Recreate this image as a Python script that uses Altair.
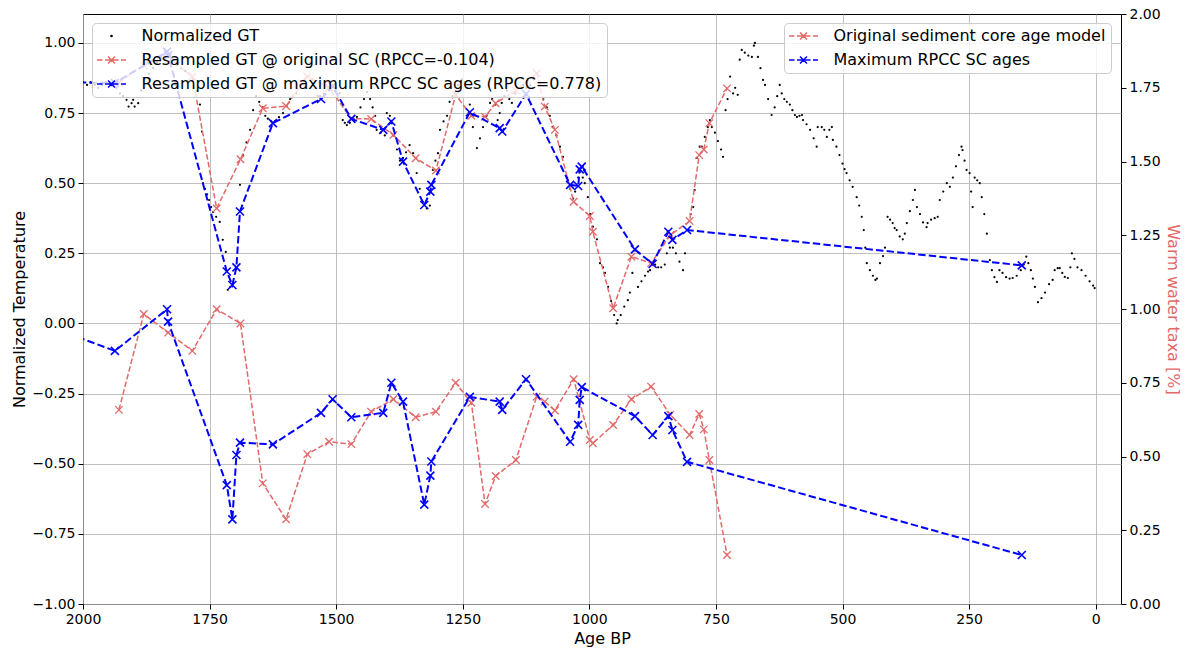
import altair as alt
import pandas as pd

RED = "#e36868"
BLUE = "#0000ff"

GT_LABEL = "Normalized GT"
RED_UP_LABEL = "Resampled GT @ original SC (RPCC=-0.104)"
BLUE_UP_LABEL = "Resampled GT @ maximum RPCC SC ages (RPCC=0.778)"
RED_LOW_LABEL = "Original sediment core age model"
BLUE_LOW_LABEL = "Maximum RPCC SC ages"

# ---- Normalized GT (age BP, normalized temperature) ----
gt_age = [2000, 1992, 1985, 1977, 1970, 1962, 1955, 1948, 1941, 1934, 1927, 1921, 1914, 1910, 1904, 1901,
          1898, 1891, 1885, 1878, 1870, 1862, 1854, 1846, 1838, 1830, 1822, 1814, 1806, 1798, 1790, 1782,
          1775, 1769, 1765, 1763, 1759, 1755, 1751, 1747, 1743, 1737, 1730, 1724, 1718, 1714, 1709, 1704,
          1698, 1690, 1684, 1677, 1670, 1664, 1658, 1652, 1645, 1640, 1635, 1628, 1621, 1613, 1605, 1598,
          1591, 1585, 1579, 1570, 1562, 1555, 1547, 1540, 1532, 1524, 1516, 1508, 1500, 1493, 1487, 1483,
          1479, 1473, 1466, 1459, 1452, 1445, 1439, 1433, 1428, 1423, 1420, 1412, 1404, 1400, 1394, 1387,
          1380, 1374, 1368, 1362, 1355, 1348, 1341, 1335, 1329, 1321, 1315, 1309, 1304, 1299, 1295, 1288,
          1281, 1276, 1270, 1266, 1259, 1252, 1246, 1242, 1236, 1230, 1222, 1216, 1210, 1203, 1196, 1192,
          1185, 1181, 1177, 1173, 1168, 1163, 1158, 1153, 1146, 1139, 1131, 1124, 1117, 1110, 1104, 1098,
          1091, 1084, 1078, 1072, 1065, 1058, 1052, 1044, 1038, 1032, 1028, 1022, 1019, 1013, 1009, 1003,
          998, 993, 985, 979, 973, 969, 963, 957, 951, 946, 944, 938, 931, 924, 920, 915,
          910, 904, 897, 890, 884, 880, 876, 870, 864, 858, 851, 847, 841, 835, 829, 822,
          815, 811, 807, 800, 795, 792, 788, 782, 778, 772, 766, 762, 758, 752, 746, 740,
          736, 731, 727, 722, 716, 712, 707, 703, 699, 693, 686, 679, 675, 673, 667, 662,
          657, 653, 647, 640, 634, 629, 624, 620, 615, 610, 604, 599, 594, 590, 585, 580,
          578, 571, 564, 557, 551, 549, 541, 536, 531, 526, 521, 519, 512, 506, 500, 496,
          492, 486, 480, 472, 467, 462, 458, 455, 452, 446, 440, 435, 432, 426, 420, 416,
          411, 406, 401, 397, 393, 387, 381, 377, 373, 367, 361, 357, 353, 347, 341, 334,
          332, 325, 318, 312, 308, 301, 294, 288, 282, 276, 270, 265, 263, 259, 255, 249,
          246, 243, 239, 234, 229, 225, 220, 215, 209, 205, 200, 195, 190, 184, 177, 170,
          164, 156, 148, 142, 137, 133, 128, 124, 120, 114, 107, 100, 92, 85, 81, 75,
          71, 66, 61, 55, 50, 47, 42, 36, 28, 20, 12, 5, 2]
gt_val = [0.86, 0.85, 0.86, 0.85, 0.84, 0.85, 0.86, 0.86, 0.86, 0.84, 0.82, 0.81, 0.797, 0.773, 0.785, 0.797,
          0.773, 0.785, 0.83, 0.87, 0.89, 0.91, 0.93, 0.95, 0.97, 0.96, 0.94, 0.92, 0.91, 0.90, 0.89, 0.87,
          0.83, 0.78, 0.684, 0.50, 0.48, 0.46, 0.44, 0.415, 0.397, 0.38, 0.362, 0.298, 0.255, 0.12, 0.13, 0.144,
          0.20, 0.494, 0.60, 0.645, 0.69, 0.76, 0.81, 0.79, 0.77, 0.74, 0.73, 0.72, 0.72, 0.735, 0.75, 0.775,
          0.80, 0.81, 0.82, 0.85, 0.87, 0.88, 0.87, 0.84, 0.81, 0.82, 0.84, 0.85, 0.84, 0.82, 0.725, 0.715,
          0.707, 0.715, 0.73, 0.736, 0.77, 0.80, 0.825, 0.80, 0.77, 0.74, 0.69, 0.68, 0.67, 0.75, 0.74, 0.67,
          0.62, 0.58, 0.59, 0.61, 0.636, 0.607, 0.536, 0.48, 0.433, 0.41, 0.42, 0.547, 0.58, 0.607, 0.69, 0.72,
          0.74, 0.79, 0.81, 0.82, 0.85, 0.87, 0.86, 0.84, 0.78, 0.70, 0.625, 0.66, 0.70, 0.74, 0.786, 0.80,
          0.78, 0.725, 0.75, 0.786, 0.81, 0.83, 0.80, 0.786, 0.82, 0.84, 0.85, 0.84, 0.85, 0.87, 0.89, 0.85,
          0.80, 0.77, 0.74, 0.70, 0.67, 0.63, 0.594, 0.52, 0.48, 0.445, 0.47, 0.52, 0.54, 0.52, 0.50, 0.45,
          0.39, 0.345, 0.30, 0.215, 0.20, 0.18, 0.13, 0.08, 0.03, 0.0, 0.012, 0.03, 0.06, 0.083, 0.11, 0.18,
          0.26, 0.13, 0.15, 0.17, 0.185, 0.19, 0.21, 0.21, 0.20, 0.20, 0.21, 0.25, 0.27, 0.27, 0.25, 0.22,
          0.19, 0.25, 0.333, 0.39, 0.415, 0.475, 0.59, 0.63, 0.63, 0.665, 0.70, 0.725, 0.70, 0.68, 0.65, 0.62,
          0.594, 0.76, 0.80, 0.88, 0.82, 0.84, 0.815, 0.94, 0.975, 0.965, 0.955, 0.95, 0.99, 1.0, 0.95, 0.91,
          0.868, 0.85, 0.80, 0.743, 0.77, 0.81, 0.85, 0.82, 0.80, 0.79, 0.78, 0.76, 0.743, 0.736, 0.74, 0.743,
          0.725, 0.71, 0.69, 0.66, 0.63, 0.70, 0.70, 0.69, 0.665, 0.69, 0.70, 0.654, 0.63, 0.60, 0.57, 0.55,
          0.536, 0.51, 0.487, 0.45, 0.42, 0.38, 0.333, 0.27, 0.215, 0.19, 0.17, 0.155, 0.16, 0.215, 0.24, 0.27,
          0.38, 0.37, 0.358, 0.34, 0.333, 0.31, 0.30, 0.32, 0.358, 0.40, 0.44, 0.476, 0.415, 0.39, 0.36, 0.343,
          0.358, 0.37, 0.375, 0.38, 0.44, 0.47, 0.50, 0.487, 0.52, 0.56, 0.60, 0.63, 0.618, 0.58, 0.547, 0.536,
          0.47, 0.415, 0.52, 0.51, 0.50, 0.45, 0.39, 0.32, 0.226, 0.19, 0.165, 0.148, 0.19, 0.18, 0.165, 0.16,
          0.162, 0.17, 0.19, 0.21, 0.238, 0.215, 0.19, 0.16, 0.13, 0.076, 0.09, 0.11, 0.14, 0.155, 0.19, 0.197,
          0.197, 0.18, 0.166, 0.162, 0.20, 0.25, 0.23, 0.20, 0.19, 0.17, 0.15, 0.135, 0.126]

# ---- Original sediment core age model ----
orig_age = [1929, 1880, 1832, 1784, 1736, 1689, 1645, 1599, 1557, 1514, 1470, 1431, 1387, 1343, 1303, 1264,
            1233, 1206, 1185, 1145, 1104, 1088, 1068, 1031, 999, 993, 953, 917, 878, 840, 802, 783, 774, 763, 728]
orig_taxa = [0.658, 0.983, 0.92, 0.858, 0.999, 0.951, 0.409, 0.287, 0.508, 0.55, 0.542, 0.652, 0.694, 0.633,
             0.652, 0.75, 0.682, 0.339, 0.434, 0.488, 0.703, 0.686, 0.656, 0.762, 0.556, 0.545, 0.607, 0.694,
             0.737, 0.641, 0.573, 0.644, 0.592, 0.488, 0.166]
orig_gt = [0.86, 0.92, 0.95, 0.88, 0.41, 0.585, 0.767, 0.775, 0.88, 0.84, 0.73, 0.729, 0.672, 0.589, 0.545,
           0.815, 0.74, 0.737, 0.785, 0.83, 0.892, 0.773, 0.69, 0.434, 0.383, 0.327, 0.054, 0.238, 0.215,
           0.315, 0.365, 0.60, 0.62, 0.714, 0.838]

# ---- Maximum RPCC sediment core ages ----
max_age = [2050, 1937, 1834, 1832, 1716, 1705, 1697, 1690, 1625, 1530, 1507, 1470, 1407, 1391, 1368, 1326,
           1314, 1312, 1236, 1177, 1172, 1125, 1038, 1022, 1019, 1015, 910, 875, 844, 836, 807, 146]
max_taxa = [0.93, 0.858, 0.999, 0.957, 0.403, 0.287, 0.505, 0.547, 0.541, 0.648, 0.694, 0.633, 0.648, 0.75,
            0.686, 0.337, 0.435, 0.483, 0.702, 0.686, 0.658, 0.762, 0.55, 0.607, 0.692, 0.735, 0.637, 0.573,
            0.637, 0.59, 0.482, 0.166]
max_gt = [0.86, 0.857, 0.969, 0.957, 0.185, 0.137, 0.2, 0.399, 0.714, 0.80, 0.845, 0.729, 0.69, 0.72, 0.577,
          0.422, 0.47, 0.494, 0.753, 0.696, 0.684, 0.818, 0.494, 0.49, 0.549, 0.559, 0.264, 0.212, 0.327,
          0.298, 0.333, 0.207]

x_ticks = [2000, 1750, 1500, 1250, 1000, 750, 500, 250, 0]
yl_ticks = [-1.0, -0.75, -0.5, -0.25, 0.0, 0.25, 0.5, 0.75, 1.0]
yr_ticks = [0.0, 0.25, 0.5, 0.75, 1.0, 1.25, 1.5, 1.75, 2.0]

left_df = pd.concat([
    pd.DataFrame({"age": gt_age, "val": gt_val, "series": GT_LABEL}),
    pd.DataFrame({"age": orig_age, "val": orig_gt, "series": RED_UP_LABEL}),
    pd.DataFrame({"age": max_age, "val": max_gt, "series": BLUE_UP_LABEL}),
], ignore_index=True)
right_df = pd.concat([
    pd.DataFrame({"age": orig_age, "val": orig_taxa, "series2": RED_LOW_LABEL}),
    pd.DataFrame({"age": max_age, "val": max_taxa, "series2": BLUE_LOW_LABEL}),
], ignore_index=True)

FONT = "DejaVu Sans"
# legend glyphs (1 unit = 1 px with symbol size 4)
DASHX = "M-14.5,0H-9M-6.5,0H-1M1.5,0H7M9.5,0H14.5M-3.5,-3.5L3.5,3.5M-3.5,3.5L3.5,-3.5"
DOT = "M-0.6,0A0.6,0.6,0,1,0,0.6,0A0.6,0.6,0,1,0,-0.6,0Z"
XSHAPE = "M-1,-1L1,1M-1,1L1,-1"


def make_legend(x, y):
    return alt.Legend(
        orient="none", legendX=x, legendY=y, title=None,
        fillColor="rgba(255,255,255,0.8)", strokeColor="#cccccc", cornerRadius=4,
        padding=5, rowPadding=8, labelFont=FONT, labelFontSize=16, labelColor="black",
        labelLimit=1000, labelOffset=22, symbolOffset=6.5, symbolSize=4, symbolStrokeWidth=1.5,
        symbolFillColor="transparent", symbolOpacity=1,
    )


x_enc = alt.X("age:Q", scale=alt.Scale(domain=[2000, -50], nice=False, zero=False),
              axis=alt.Axis(values=x_ticks, format="d", title="Age BP", grid=True,
                            gridColor="#b0b0b0", gridWidth=0.8, domain=False, labelFlush=False,
                            tickColor="black", tickSize=5, labelFont=FONT, labelFontSize=14,
                            labelColor="black", labelPadding=3, titleFont=FONT, titleFontSize=16,
                            titleFontWeight="normal", titleColor="black", titlePadding=4))

yl_enc = alt.Y("val:Q", scale=alt.Scale(domain=[-1.0, 1.103], nice=False, zero=False),
               axis=alt.Axis(values=yl_ticks, format=".2f", title="Normalized Temperature", grid=True,
                             gridColor="#b0b0b0", gridWidth=0.8, domain=False, tickColor="black",
                             tickSize=5, labelFont=FONT, labelFontSize=14, labelColor="black",
                             labelFlush=False, labelPadding=3, titleFont=FONT, titleFontSize=16,
                             titleFontWeight="normal", titleColor="black", titlePadding=5))

yr_enc = alt.Y("val:Q", scale=alt.Scale(domain=[0, 2], nice=False, zero=False),
               axis=alt.Axis(orient="right", values=yr_ticks, format=".2f", title="Warm water taxa [%]",
                             grid=False, domain=False, tickColor="black", tickSize=5, labelFont=FONT,
                             labelFlush=False, labelFontSize=14, labelColor="black", labelPadding=3,
                             titleFont=FONT, titleFontSize=16, titleFontWeight="normal", titleColor=RED,
                             titlePadding=4))

leg_left = make_legend(9, 9)
leg_right = make_legend(701, 9)

left_dom = [GT_LABEL, RED_UP_LABEL, BLUE_UP_LABEL]
right_dom = [RED_LOW_LABEL, BLUE_LOW_LABEL]
sc_left = alt.Scale(domain=left_dom, range=["black", RED, BLUE])
sc_right = alt.Scale(domain=right_dom, range=[RED, BLUE])

c_left = alt.Color("series:N", scale=sc_left, legend=None)
c_right = alt.Color("series2:N", scale=sc_right, legend=None)

# legend-only layer first (no rows survive the filter), so its legend settings win the merge
leg_l = alt.Chart(left_df).transform_filter("false").mark_point(
    filled=False, size=4, strokeWidth=1.5, opacity=1).encode(
    x=x_enc, y=yl_enc,
    color=alt.Color("series:N", scale=sc_left, legend=leg_left),
    shape=alt.Shape("series:N", scale=alt.Scale(domain=left_dom, range=[DOT, DASHX, DASHX]), legend=leg_left),
)
bl = alt.Chart(left_df).encode(x=x_enc, y=yl_enc, color=c_left)
gt_pts = bl.transform_filter(alt.datum.series == GT_LABEL).mark_circle(size=5, opacity=1, clip=True)
ru_line = bl.transform_filter(alt.datum.series == RED_UP_LABEL).mark_line(
    strokeDash=[5.5, 2.4], strokeWidth=1.5, clip=True)
ru_pts = bl.transform_filter(alt.datum.series == RED_UP_LABEL).mark_point(
    shape=XSHAPE, size=56, strokeWidth=1.3, filled=False, opacity=1, clip=True)
bu_line = bl.transform_filter(alt.datum.series == BLUE_UP_LABEL).mark_line(
    strokeDash=[7.4, 3.2], strokeWidth=2, clip=True)
bu_pts = bl.transform_filter(alt.datum.series == BLUE_UP_LABEL).mark_point(
    shape=XSHAPE, size=64, strokeWidth=1.6, filled=False, opacity=1, clip=True)
left = alt.layer(leg_l, gt_pts, ru_line, ru_pts, bu_line, bu_pts)

leg_r = alt.Chart(right_df).transform_filter("false").mark_point(
    filled=False, size=4, strokeWidth=1.5, opacity=1).encode(
    x=x_enc, y=yr_enc,
    color=alt.Color("series2:N", scale=sc_right, legend=leg_right),
    shape=alt.Shape("series2:N", scale=alt.Scale(domain=right_dom, range=[DASHX, DASHX]), legend=leg_right),
)
br = alt.Chart(right_df).encode(x=x_enc, y=yr_enc, color=c_right)
rl_line = br.transform_filter(alt.datum.series2 == RED_LOW_LABEL).mark_line(
    strokeDash=[5.5, 2.4], strokeWidth=1.5, clip=True)
rl_pts = br.transform_filter(alt.datum.series2 == RED_LOW_LABEL).mark_point(
    shape=XSHAPE, size=56, strokeWidth=1.3, filled=False, opacity=1, clip=True)
bl_line = br.transform_filter(alt.datum.series2 == BLUE_LOW_LABEL).mark_line(
    strokeDash=[7.4, 3.2], strokeWidth=2, clip=True)
bl_pts = br.transform_filter(alt.datum.series2 == BLUE_LOW_LABEL).mark_point(
    shape=XSHAPE, size=64, strokeWidth=1.6, filled=False, opacity=1, clip=True)
right = alt.layer(leg_r, rl_line, rl_pts, bl_line, bl_pts)

chart = alt.layer(left, right).resolve_scale(
    y="independent", color="independent", shape="independent"
).resolve_legend(color="independent", shape="independent").properties(
    width=1038, height=590,
    padding={"left": 83, "top": 14, "right": 66, "bottom": 46},
    autosize=alt.AutoSizeParams(type="none"),
    background="white",
).configure_view(stroke="black", strokeWidth=1)

chart.save("out.html", embed_options={"renderer": "svg", "actions": False})
